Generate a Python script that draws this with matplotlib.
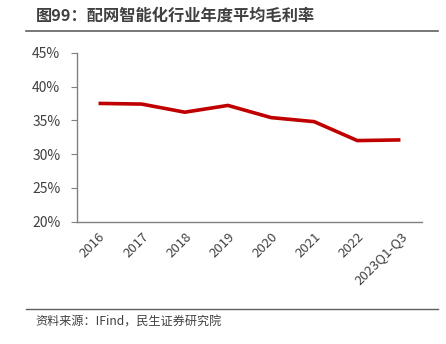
import matplotlib.pyplot as plt
from matplotlib.lines import Line2D

plt.rcParams['font.family'] = ['Noto Sans CJK SC', 'DejaVu Sans']

# 数据
years = ['2016', '2017', '2018', '2019', '2020', '2021', '2022', '2023Q1-Q3']
margin = [37.5, 37.4, 36.2, 37.2, 35.4, 34.8, 32.0, 32.1]
yticks = [20, 25, 30, 35, 40, 45]

fig = plt.figure(figsize=(4.46, 3.44), dpi=100)
ax = fig.add_axes([77/446, 1-221.7/344, 345/446, 169/344])

x = range(len(years))
ax.plot(x, margin, color='#C00000', lw=2.6, solid_capstyle='butt')
ax.set_xlim(-0.5, len(years)-0.5)
ax.set_ylim(20, 45)
ax.set_yticks(yticks)
ax.set_yticklabels([f'{v}%' for v in yticks])
ax.set_xticks(list(x))
ax.set_xticklabels(years, rotation=45, ha='right', rotation_mode='anchor')

for s in ['top', 'right']:
    ax.spines[s].set_visible(False)
for s in ['left', 'bottom']:
    ax.spines[s].set_color('#808080')
    ax.spines[s].set_linewidth(1)
ax.tick_params(axis='y', colors='#808080', labelcolor='#404040', labelsize=10, length=4, pad=8)
ax.tick_params(axis='x', length=0, labelcolor='#404040', labelsize=9.5, pad=6)

# 标题与来源
fig.text(36/446, 1-16/344, '图99：配网智能化行业年度平均毛利率', fontsize=11.7, fontweight='bold',
         color='#404040', va='center', ha='left')
fig.add_artist(Line2D([26/446, 438/446], [1-31/344, 1-31/344], color='#606060', lw=1.2))
fig.add_artist(Line2D([26/446, 438/446], [1-309/344, 1-309/344], color='#606060', lw=1))
fig.text(35/446, 1-322/344, '资料来源：IFind，民生证券研究院', fontsize=8.7, color='#404040',
         va='center', ha='left')

fig.savefig('out.png', dpi=100)
